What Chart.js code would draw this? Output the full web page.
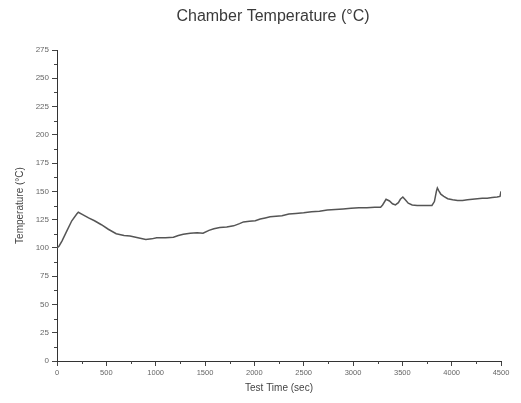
<!DOCTYPE html>
<html>
<head>
<meta charset="utf-8">
<script src="https://cdn.jsdelivr.net/npm/chart.js@4"></script>
<style>
  body { margin: 0; background: #fff; }
  #wrap { width: 521px; height: 403px; }
</style>
</head>
<body>
<div id="wrap"><canvas id="chamberChart" width="521" height="403"></canvas></div>
<script>
// Test time (sec) and chamber temperature (°C)
const testTime = [0, 20, 50, 100, 150, 200, 216, 260, 320, 380, 450, 520, 600, 680, 740, 820, 900, 960, 1010, 1100,
  1180, 1230, 1280, 1350, 1420, 1480, 1540, 1590, 1650, 1720, 1790, 1850, 1890, 1950, 2010, 2060, 2110, 2160, 2220, 2280,
  2350, 2420, 2500, 2580, 2660, 2740, 2820, 2900, 2980, 3060, 3140, 3220, 3280, 3300, 3335, 3370, 3400, 3430, 3460, 3480,
  3505, 3530, 3560, 3600, 3650, 3700, 3750, 3800, 3825, 3845, 3855, 3870, 3890, 3920, 3960, 4010, 4060, 4110, 4160, 4210,
  4260, 4310, 4360, 4410, 4460, 4490, 4500, 4505];
const chamberTemp = [100, 101.5, 106, 115, 124, 130, 131.5, 129.5, 126.5, 124, 120.5, 116.5, 112.5, 111, 110.5, 109, 107.5, 108, 109, 109,
  109.5, 111, 112, 113, 113.5, 113, 115.5, 117, 118, 118.5, 119.5, 121.5, 123, 123.5, 124, 125.5, 126.5, 127.5, 128, 128.5,
  130, 130.5, 131, 132, 132.5, 133.5, 134, 134.5, 135, 135.5, 135.5, 136, 136, 138, 143, 141.5, 139, 138, 140, 143,
  145, 142.5, 139.5, 138, 137.5, 137.5, 137.5, 137.5, 141, 150, 153, 150.5, 147.5, 145.5, 143.5, 142.5, 142, 142, 142.5, 143,
  143.5, 144, 144, 144.5, 145, 145.5, 150, 155];

const titleText = 'Chamber Temperature (°C)';
const xTitle = 'Test Time (sec)';
const yTitle = 'Temperature (°C)';

const points = testTime.map((t, i) => ({ x: t, y: chamberTemp[i] }));

// minor tick marks + chart title
const extras = {
    id: 'extras',
    afterDraw(chart) {
        const ctx = chart.ctx;
        const xs = chart.scales.x;
        const ys = chart.scales.y;
        ctx.save();
        ctx.strokeStyle = '#444';
        ctx.lineWidth = 1;
        ctx.beginPath();
        for (let v = 12.5; v < 275; v += 25) {
            const py = Math.round(ys.getPixelForValue(v)) + 0.5;
            ctx.moveTo(xs.left - 3, py);
            ctx.lineTo(xs.left, py);
        }
        for (let v = 250; v < 4500; v += 500) {
            const px = Math.round(xs.getPixelForValue(v)) + 0.5;
            ctx.moveTo(px, ys.bottom);
            ctx.lineTo(px, ys.bottom + 3);
        }
        ctx.stroke();

        ctx.fillStyle = '#3a3a3a';
        ctx.font = '16px "Liberation Sans", Arial, sans-serif';
        ctx.textAlign = 'center';
        ctx.textBaseline = 'middle';
        ctx.fillText(titleText, 273, 17);
        ctx.restore();
    }
};

new Chart(document.getElementById('chamberChart'), {
    type: 'line',
    data: {
        datasets: [{
            data: points,
            borderColor: '#555',
            borderWidth: 1.5,
            pointRadius: 0,
            tension: 0,
            fill: false
        }]
    },
    options: {
        responsive: false,
        animation: false,
        layout: { padding: { top: 50, right: 20, left: 0, bottom: 0 } },
        plugins: { legend: { display: false }, tooltip: { enabled: false } },
        scales: {
            x: {
                type: 'linear',
                min: 0,
                max: 4500,
                afterFit: (scale) => { scale.height = 42; },
                ticks: {
                    stepSize: 500,
                    padding: 2,
                    maxRotation: 0,
                    color: '#666',
                    callback: (v) => String(v),
                    font: { size: 7.5, family: '"Liberation Sans", Arial, sans-serif' }
                },
                grid: { drawOnChartArea: false, tickLength: 5, color: '#444' },
                border: { color: '#333', width: 1 },
                title: {
                    display: true,
                    text: xTitle,
                    color: '#444',
                    padding: { top: 0, bottom: 9 },
                    font: { size: 10, family: '"Liberation Sans", Arial, sans-serif' }
                }
            },
            y: {
                min: 0,
                max: 275,
                afterFit: (scale) => { scale.width = 57; },
                ticks: {
                    stepSize: 25,
                    padding: 3,
                    color: '#666',
                    font: { size: 8, family: '"Liberation Sans", Arial, sans-serif' }
                },
                grid: { drawOnChartArea: false, tickLength: 5, color: '#444' },
                border: { color: '#333', width: 1 },
                title: {
                    display: true,
                    text: yTitle,
                    color: '#444',
                    padding: { top: 14, bottom: 0 },
                    font: { size: 10, family: '"Liberation Sans", Arial, sans-serif' }
                }
            }
        }
    },
    plugins: [extras]
});
</script>
</body>
</html>
